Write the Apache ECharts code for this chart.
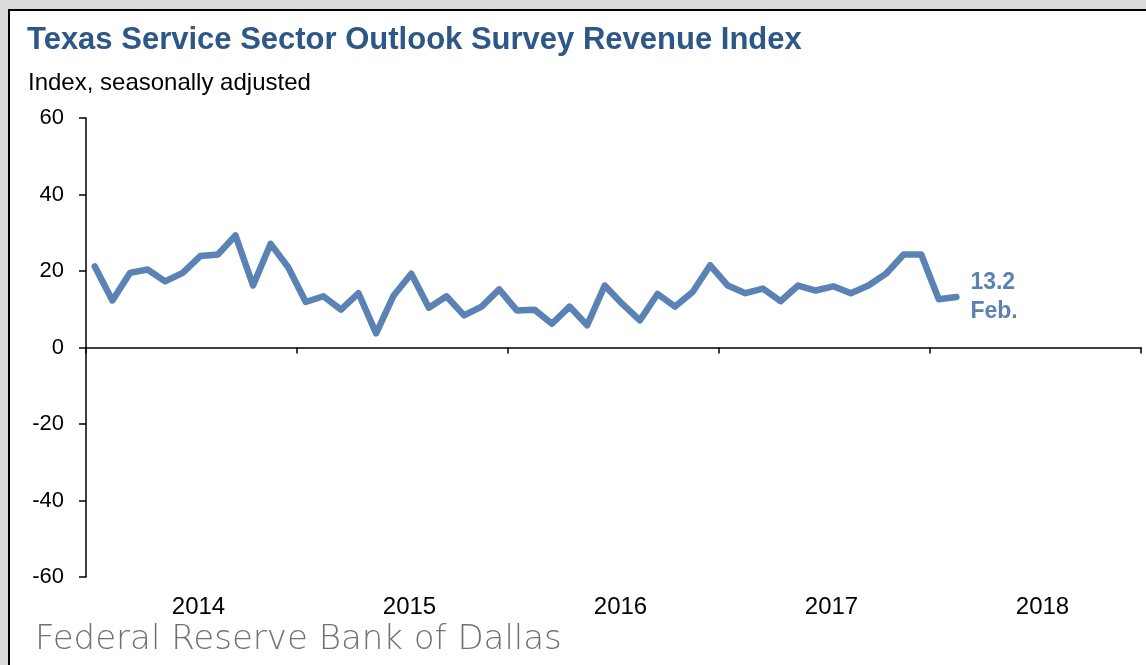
<!DOCTYPE html>
<html>
<head>
<meta charset="utf-8">
<script src="https://cdn.jsdelivr.net/npm/echarts@6/dist/echarts.min.js"></script>
<style>
html,body{margin:0;padding:0;background:#dcdcdc;}
#chart{width:1146px;height:665px;}
</style>
</head>
<body>
<div id="chart"></div>
<script>
// ---- data ----
const years = ['2014', '2015', '2016', '2017', '2018'];
const yTicks = { min: -60, max: 60, step: 20 };
// Revenue index, monthly Jan 2014 – Feb 2018
const revenueIndex = [
  21.2, 12.3, 19.5, 20.4, 17.3, 19.5, 23.9, 24.3, 29.3, 16.2, 27.1, 21.0,   // 2014
  11.9, 13.4, 9.9, 14.2, 3.7, 13.6, 19.3, 10.4, 13.4, 8.4, 10.7, 15.2,     // 2015
  9.7, 9.9, 6.2, 10.7, 5.8, 16.2, 11.4, 7.1, 14.0, 10.7, 14.5, 21.5,       // 2016
  16.2, 14.2, 15.4, 12.1, 16.2, 14.9, 16.0, 14.2, 16.2, 19.3, 24.3, 24.3,  // 2017
  12.6, 13.2                                                                 // 2018
];
const lastLabel = ['13.2', 'Feb.'];

const months = [];
years.forEach(y => { for (let m = 1; m <= 12; m++) months.push(y + '-' + (m < 10 ? '0' + m : m)); });

const chart = echarts.init(document.getElementById('chart'), null, { renderer: 'canvas' });
const blue = '#5A82B4';
const font = '"Liberation Sans", Arial, sans-serif';

chart.setOption({
  backgroundColor: '#dcdcdc',
  animation: false,
  graphic: [
    { type: 'rect', z: -10, silent: true,
      shape: { x: 9, y: 10, width: 1200, height: 700 },
      style: { fill: '#ffffff', stroke: '#000000', lineWidth: 2 } }
  ],
  title: [
    { text: 'Texas Service Sector Outlook Survey Revenue Index', left: 22, top: 20,
      textStyle: { fontFamily: font, fontSize: 31, fontWeight: 'bold', color: '#2C5786' } },
    { text: 'Index, seasonally adjusted', left: 23, top: 66,
      textStyle: { fontFamily: font, fontSize: 24, fontWeight: 'normal', color: '#000' } },
    { text: 'Federal Reserve Bank of Dallas', left: 30, top: 618,
      textStyle: { fontFamily: '"DejaVu Sans", sans-serif', fontSize: 34, fontWeight: 200, color: '#707070' } }
  ],
  grid: { left: 86, right: 5, top: 118, bottom: 88, containLabel: false, outerBoundsMode: 'none' },
  xAxis: [
    { type: 'category', data: years, boundaryGap: true, position: 'bottom',
      axisLine: { show: true, onZero: true, lineStyle: { color: '#000', width: 1.5 } },
      axisTick: { show: true, length: 6, inside: false, lineStyle: { color: '#000', width: 1.5 } },
      axisLabel: { show: false },
      splitLine: { show: false } },
    { type: 'category', data: months, boundaryGap: true, position: 'top', show: false },
    { type: 'category', data: years, boundaryGap: true, position: 'bottom',
      axisLine: { show: false, onZero: false },
      axisTick: { show: false },
      axisLabel: { show: true, margin: 18, padding: [0, 0, 0, 14], fontFamily: font, fontSize: 24, color: '#000' },
      splitLine: { show: false } }
  ],
  yAxis: {
    type: 'value', min: yTicks.min, max: yTicks.max, interval: yTicks.step,
    axisLine: { show: true, lineStyle: { color: '#000', width: 1.5 } },
    axisTick: { show: true, length: 7, inside: false, lineStyle: { color: '#000', width: 1.5 } },
    axisLabel: { margin: 22, fontFamily: font, fontSize: 22, color: '#000' },
    splitLine: { show: false }
  },
  series: [{
    type: 'line', xAxisIndex: 1, data: revenueIndex,
    symbol: 'none', smooth: false,
    lineStyle: { color: blue, width: 6.5, join: 'round', cap: 'round' },
    endLabel: { show: true, distance: 14, formatter: lastLabel.join('\n'),
      fontFamily: font, fontSize: 23, fontWeight: 'bold', color: blue, lineHeight: 29, align: 'left' }
  }]
});
</script>
</body>
</html>
